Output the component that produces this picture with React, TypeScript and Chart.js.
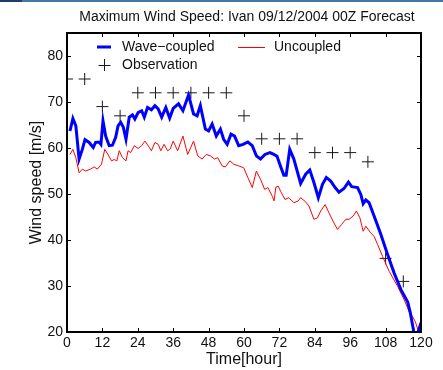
import React, { useEffect, useRef } from "react";
import { Chart, registerables } from "chart.js";

Chart.register(...registerables);

const titleText = "Maximum Wind Speed: Ivan 09/12/2004 00Z Forecast";
const xTickValues = [0, 12, 24, 36, 48, 60, 72, 84, 96, 108, 120];
const yTickValues = [20, 30, 40, 50, 60, 70, 80];

const waveHours = [
  1, 2, 3, 4.1, 5.2, 6.1, 7.5, 8.9, 9.7, 10.9, 11.5, 12.2, 13.1, 14.3, 15.4, 16.5, 17.3, 18.2, 19.1, 20,
  21.1, 22.2, 23, 24.1, 25.3, 26.2, 27.3, 28.6, 29.8, 30.9, 32.1, 33.5, 34.8, 36, 37.8, 39.3, 41.2, 42.9,
  44.1, 45.2, 46.9, 48, 49.2, 50.6, 52, 53.1, 54.3, 55.6, 56.8, 58.2, 59.7, 61.3, 62.8, 64.2, 65.6, 67.1,
  68.8, 70.1, 71.2, 72.4, 73.5, 74.3, 75.5, 76.9, 79.2, 80.9, 82.3, 83.7, 85.2, 86.6, 87.9, 89.4, 90.9,
  92.2, 93.9, 95.4, 96.5, 98.5, 99.6, 100.4, 101.3, 102.4, 104.1, 106.4, 108.7, 110.9, 113.2, 115.5,
  116.4, 117.6, 118.8, 120,
];
const waveValues = [
  63.7, 66.4, 64.8, 57.6, 59.7, 61.8, 61.2, 60.1, 61.2, 61.3, 60.8, 65.9, 62.6, 60.5, 60.6, 62.3, 64.8, 65.6, 64.5, 61.9,
  66.7, 67.2, 66.3, 67.7, 68.1, 66.7, 68.8, 68.3, 69.2, 68.5, 66.7, 68.8, 66.5, 68.6, 69.6, 68.1, 71.5, 67.4,
  67.0, 69.2, 64.1, 63.7, 65.2, 62.6, 64.1, 61.9, 60.8, 63.0, 62.6, 60.5, 60.8, 61.3, 60.5, 58.3, 57.6, 58.6,
  59.0, 58.6, 58.2, 56.0, 54.1, 54.1, 59.7, 57.6, 52.3, 54.3, 55.2, 52.5, 49.2, 52.1, 53.6, 52.8, 51.4,
  50.4, 51.2, 52.6, 51.6, 51.4, 49.9, 47.9, 48.7, 48.1, 45.2, 41.2, 36.8, 32.8, 29.2, 26.5,
  24.1, 19.9, 19.6, 22.0,
];

const uncoupledHours = [
  1, 2, 3, 4.1, 5.2, 6.3, 8, 9.2, 10.3, 11.7, 12.8, 13.9, 15.1, 16, 16.9, 17.7, 18.8, 20, 20.7, 21.6,
  22.8, 24.1, 25.3, 26.4, 27.5, 28.6, 29.8, 30.9, 31.8, 32.9, 34.1, 35, 36, 37.5, 39.3, 40.9, 42.9, 44.3,
  45.8, 47.2, 48.6, 50, 51.1, 52.6, 53.7, 55.2, 56.5, 58.2, 59.9, 61.3, 62.8, 64.2, 65.6, 67, 68.1, 69.6,
  70.2, 70.8, 71.6, 72.4, 73.9, 75.2, 76.9, 78.4, 79.2, 80.9, 82, 83.7, 84.9, 86, 87.5, 88.8, 90.5, 91.7,
  93.1, 94.5, 95.6, 97, 98.1, 99.3, 100.4, 101.3, 103, 104.1, 105.3, 107, 109.2, 112.1, 114.3, 116,
  117.2, 118.1, 118.9, 120,
];
const uncoupledValues = [
  58.6, 59.7, 57.9, 54.6, 55.4, 55.0, 55.4, 55.9, 55.4, 56.5, 59.7, 58.6, 57.2, 57.5, 57.2, 59.4, 57.9, 57.2, 59.4, 59.0,
  60.5, 59.9, 60.5, 61.5, 60.5, 59.4, 61.2, 60.8, 59.4, 60.8, 59.4, 59.8, 61.5, 59.4, 62.6, 58.6, 61.5, 58.3,
  57.6, 58.6, 58.3, 57.6, 57.9, 56.1, 55.9, 57.2, 56.5, 56.1, 55.7, 53.6, 51.4, 55.0, 53.2, 51.0, 51.4, 49.5,
  48.5, 51.5, 51.7, 50.6, 48.8, 49.2, 48.1, 48.5, 49.2, 48.3, 47.4, 44.5, 44.8, 46.3, 47.7, 45.9, 43.7, 42.3,
  43.4, 44.5, 44.5, 45.2, 46.3, 44.8, 41.9, 43.0, 41.5, 40.8, 39.0, 36.4, 33.2, 29.9, 27.0, 24.4,
  23.3, 22.2, 20.6, 20.3,
];

const observationHours = [0, 6, 12, 18, 24, 30, 36, 42, 48, 54, 60, 66, 72, 78, 84, 90, 96, 102, 108, 114];
const observationValues = [75, 75, 69, 67, 72, 72, 72, 72, 72, 72, 67, 62, 62, 62, 59, 59, 59, 57, 36, 31];

const FONT = "'Liberation Sans', Arial, Helvetica, sans-serif";
const TEXT_COLOR = "#111";

const toPoints = (xs: number[], ys: number[]) => xs.map((x, i) => ({ x, y: ys[i] }));

const matlabAxesPlugin = {
  id: "matlabAxes",
  afterDatasetsDraw(chart: any) {
    const { ctx, chartArea, scales } = chart;
    const { left, right, top, bottom } = chartArea;
    const xs = scales.x;
    const ys = scales.y;
    ctx.save();
    ctx.strokeStyle = "#000";
    ctx.lineWidth = 1;
    const tl = 4;
    ctx.beginPath();
    xTickValues.forEach((v) => {
      const px = Math.round(xs.getPixelForValue(v)) + 0.5;
      ctx.moveTo(px, bottom);
      ctx.lineTo(px, bottom - tl);
      ctx.moveTo(px, top);
      ctx.lineTo(px, top + tl);
    });
    yTickValues.forEach((v) => {
      const py = Math.round(ys.getPixelForValue(v)) + 0.5;
      ctx.moveTo(left, py);
      ctx.lineTo(left + tl, py);
      ctx.moveTo(right, py);
      ctx.lineTo(right - tl, py);
    });
    ctx.stroke();
    ctx.lineWidth = 2;
    ctx.strokeRect(left, top, right - left, bottom - top);

    // title, centred a little right of the plot centre as in the original
    ctx.font = `14px ${FONT}`;
    ctx.fillStyle = TEXT_COLOR;
    ctx.textAlign = "center";
    ctx.textBaseline = "middle";
    ctx.fillText(titleText, (left + right) / 2 + 3, top - 16);

    // legend (inside plot, MATLAB style)
    const ds = chart.data.datasets;
    const lx = left + 30;
    const row1 = top + 14;
    const row2 = top + 32;
    ctx.textAlign = "left";
    // wave-coupled
    ctx.strokeStyle = ds[0].borderColor;
    ctx.lineWidth = 3;
    ctx.beginPath();
    ctx.moveTo(lx, row1);
    ctx.lineTo(lx + 14, row1);
    ctx.stroke();
    ctx.fillText(ds[0].label, lx + 25, row1);
    // uncoupled
    ctx.strokeStyle = ds[1].borderColor;
    ctx.lineWidth = 1;
    ctx.beginPath();
    ctx.moveTo(lx + 141, row1 + 0.5);
    ctx.lineTo(lx + 168, row1 + 0.5);
    ctx.stroke();
    ctx.fillText(ds[1].label, lx + 177, row1);
    // observation
    ctx.strokeStyle = "#1a1a1a";
    ctx.lineWidth = 1;
    ctx.beginPath();
    const cx = lx + 7.5;
    ctx.moveTo(cx - 6, row2 + 0.5);
    ctx.lineTo(cx + 6, row2 + 0.5);
    ctx.moveTo(cx, row2 - 6);
    ctx.lineTo(cx, row2 + 6);
    ctx.stroke();
    ctx.fillText(ds[2].label, lx + 25, row2);
    ctx.restore();
  },
};

export default function App() {
  const canvasRef = useRef<HTMLCanvasElement | null>(null);

  useEffect(() => {
    if (!canvasRef.current) return;
    const chart = new Chart(canvasRef.current, {
      type: "line",
      data: {
        datasets: [
          {
            label: "Wave\u2212coupled",
            data: toPoints(waveHours, waveValues),
            borderColor: "#0000ff",
            borderWidth: 3,
            pointRadius: 0,
            tension: 0,
            fill: false,
          },
          {
            label: "Uncoupled",
            data: toPoints(uncoupledHours, uncoupledValues),
            borderColor: "#ff0000",
            borderWidth: 1,
            pointRadius: 0,
            tension: 0,
            fill: false,
          },
          {
            label: "Observation",
            data: toPoints(observationHours, observationValues),
            borderColor: "#1a1a1a",
            backgroundColor: "#1a1a1a",
            showLine: false,
            pointStyle: "cross",
            pointRadius: 6,
            pointBorderWidth: 1,
            pointBorderColor: "#1a1a1a",
          },
        ],
      },
      options: {
        responsive: false,
        animation: false,
        devicePixelRatio: 1,
        layout: { padding: { left: 0, right: 22, top: 33, bottom: 0 } },
        plugins: {
          legend: { display: false },
          tooltip: { enabled: false },
          title: { display: false },
        },
        scales: {
          x: {
            type: "linear",
            min: 0,
            max: 120,
            grid: { display: false, drawTicks: false },
            border: { display: false },
            afterBuildTicks: (scale: any) => {
              scale.ticks = xTickValues.map((v) => ({ value: v }));
            },
            afterFit: (scale: any) => {
              scale.height = 38;
            },
            ticks: {
              color: TEXT_COLOR,
              font: { family: FONT, size: 14 },
              padding: 3,
              maxRotation: 0,
              autoSkip: false,
            },
            title: {
              display: true,
              text: "Time[hour]",
              color: TEXT_COLOR,
              font: { family: FONT, size: 16 },
              padding: { top: 0, bottom: 1 },
            },
          },
          y: {
            type: "linear",
            min: 20,
            max: 85,
            grid: { display: false, drawTicks: false },
            border: { display: false },
            afterBuildTicks: (scale: any) => {
              scale.ticks = yTickValues.map((v) => ({ value: v }));
            },
            afterFit: (scale: any) => {
              scale.width = 67;
            },
            ticks: {
              color: TEXT_COLOR,
              font: { family: FONT, size: 14 },
              padding: 4,
              autoSkip: false,
            },
            title: {
              display: true,
              text: "Wind speed [m/s]",
              color: TEXT_COLOR,
              font: { family: FONT, size: 16 },
              padding: { top: 27, bottom: 0 },
            },
          },
        },
      },
      plugins: [matlabAxesPlugin],
    } as any);
    return () => chart.destroy();
  }, []);

  return (
    <div
      style={{
        position: "absolute",
        left: 0,
        top: 0,
        width: 443,
        height: 370,
        background: "#fff",
        overflow: "hidden",
      }}
    >
      <canvas ref={canvasRef} width={443} height={370} style={{ display: "block", position: "absolute", left: 0, top: 0 }} />
      <div style={{ position: "absolute", left: 0, top: 0, width: 443, height: 2, background: "#4676a6", zIndex: 2 }} />
      <div style={{ position: "absolute", left: 0, top: 0, width: 22, height: 2, background: "#1f3d6b", zIndex: 3 }} />
    </div>
  );
}
